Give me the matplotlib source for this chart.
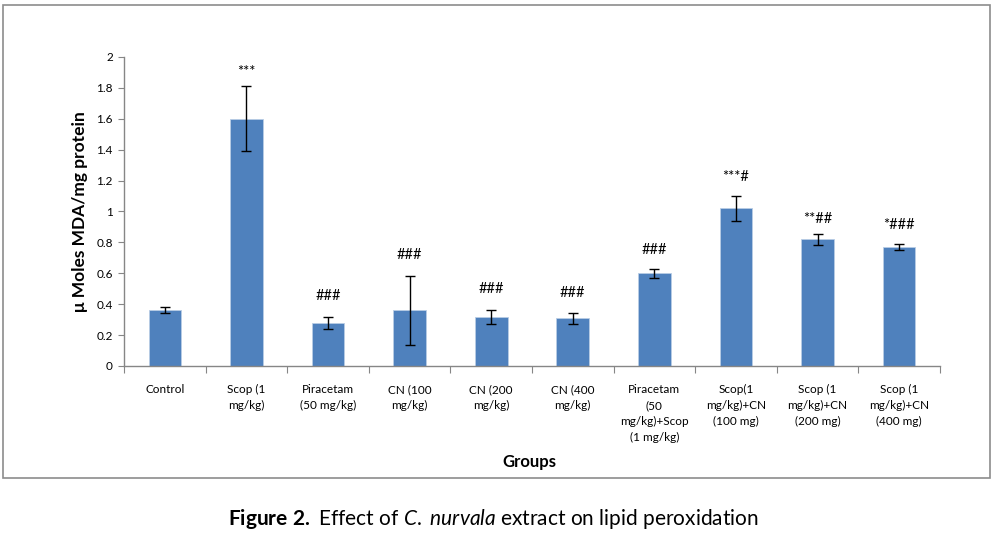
import numpy as np
import matplotlib.pyplot as plt
from matplotlib.patches import Rectangle

plt.rcParams['font.family'] = ['Lato', 'DejaVu Sans']
plt.rcParams['mathtext.fontset'] = 'custom'
plt.rcParams['mathtext.rm'] = 'Lato'
plt.rcParams['mathtext.bf'] = 'Lato:bold'
plt.rcParams['mathtext.it'] = 'Lato:italic'

groups = ["Control", "Scop (1\nmg/kg)", "Piracetam\n(50 mg/kg)", "CN (100\nmg/kg)",
          "CN (200\nmg/kg)", "CN (400\nmg/kg)", "Piracetam\n(50\nmg/kg)+Scop\n(1 mg/kg)",
          "Scop(1\nmg/kg)+CN\n(100 mg)", "Scop (1\nmg/kg)+CN\n(200 mg)", "Scop (1\nmg/kg)+CN\n(400 mg)"]
mda = [0.36, 1.60, 0.28, 0.36, 0.32, 0.31, 0.60, 1.02, 0.82, 0.77]
sem = [0.02, 0.21, 0.04, 0.225, 0.045, 0.035, 0.03, 0.08, 0.035, 0.02]
marks = ["", "***", "###", "###", "###", "###", "###", "***#", "**##", "*###"]
mark_y = [None, 1.90, 0.45, 0.72, 0.50, 0.47, 0.75, 1.22, 0.95, 0.91]

fig = plt.figure(figsize=(9.93, 5.35), dpi=100)
ax = fig.add_axes([0.1249, 0.3159, 0.8217, 0.5776])

x = np.arange(len(groups))
ax.bar(x, mda, width=0.4, color='#4f81bd', edgecolor='#b9cde5', linewidth=0.6, zorder=2)
ax.errorbar(x, mda, yerr=sem, fmt='none', ecolor='black', elinewidth=1.0,
            capsize=3.5, capthick=1.0, zorder=3)
for xi, m, my in zip(x, marks, mark_y):
    if m:
        ax.text(xi, my, m, ha='center', va='center', fontsize=10.5)

ax.set_xlim(-0.5, len(groups) - 0.5)
ax.set_ylim(0, 2)
ax.set_yticks(np.arange(0, 2.01, 0.2))
ax.set_yticklabels(["0", "0.2", "0.4", "0.6", "0.8", "1", "1.2", "1.4", "1.6", "1.8", "2"])
ax.set_xticks(np.arange(-0.5, len(groups), 1.0))
ax.set_xticklabels([])
ax.set_xticks(x, minor=True)
ax.set_xticklabels(groups, minor=True, fontsize=8.5, linespacing=1.55, va='top')
ax.tick_params(axis='x', which='minor', length=0, pad=13)
ax.tick_params(axis='x', which='major', length=5, color='#868686', direction='out')
ax.tick_params(axis='y', length=4, color='#868686', labelsize=8.5, direction='out', pad=4)

for s in ['top', 'right']:
    ax.spines[s].set_visible(False)
for s in ['left', 'bottom']:
    ax.spines[s].set_color('#868686')
    ax.spines[s].set_linewidth(1.0)

ax.set_ylabel("μ Moles MDA/mg protein", fontsize=12.5, fontweight='bold', labelpad=6)
fig.text(0.5335, 0.137, "Groups", ha='center', va='center', fontsize=12, fontweight='bold')

fig.patches.append(Rectangle((3 / 993, 1 - 478 / 535), 987 / 993, 473 / 535,
                             transform=fig.transFigure, fill=False,
                             edgecolor='#8c8c8c', linewidth=1.2))

fig.text(0.497, 1 - 519 / 535, r"$\bf{Figure\ 2.}$ Effect of $\it{C.\ nurvala}$ extract on lipid peroxidation",
         ha='center', va='center', fontsize=15)

fig.savefig("out.png", dpi=100)
